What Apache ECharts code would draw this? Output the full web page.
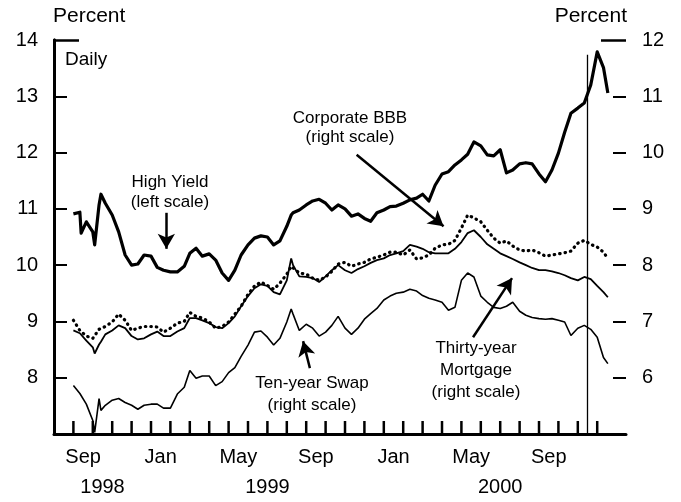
<!DOCTYPE html>
<html>
<head>
<meta charset="utf-8">
<script src="https://cdn.jsdelivr.net/npm/echarts@6/dist/echarts.min.js"></script>
<style>
  html, body { margin: 0; padding: 0; background: #fff; }
  #chart { width: 681px; height: 502px; }
</style>
</head>
<body>
<div id="chart"></div>
<script>
// sample dates (roughly every ten days, plus a few spikes)
const dates = [
  '1998-09-01', '1998-09-11', '1998-09-13', '1998-09-21', '1998-10-01', '1998-10-04', '1998-10-11', '1998-10-14', '1998-10-21',
  '1998-11-01', '1998-11-11', '1998-11-21', '1998-12-01', '1998-12-11', '1998-12-21',
  '1999-01-01', '1999-01-11', '1999-01-21', '1999-02-01', '1999-02-11', '1999-02-21',
  '1999-03-01', '1999-03-11', '1999-03-21', '1999-04-01', '1999-04-11', '1999-04-21',
  '1999-05-01', '1999-05-11', '1999-05-21', '1999-06-01', '1999-06-11', '1999-06-21',
  '1999-07-01', '1999-07-11', '1999-07-21', '1999-08-01', '1999-08-08', '1999-08-11', '1999-08-21',
  '1999-09-01', '1999-09-11', '1999-09-21', '1999-10-01', '1999-10-11', '1999-10-21',
  '1999-11-01', '1999-11-11', '1999-11-21', '1999-12-01', '1999-12-11', '1999-12-21',
  '2000-01-01', '2000-01-11', '2000-01-21', '2000-02-01', '2000-02-11', '2000-02-21',
  '2000-03-01', '2000-03-11', '2000-03-21', '2000-04-01', '2000-04-11', '2000-04-21',
  '2000-05-01', '2000-05-11', '2000-05-21', '2000-06-01', '2000-06-11', '2000-06-21',
  '2000-07-01', '2000-07-11', '2000-07-21', '2000-08-01', '2000-08-11', '2000-08-21',
  '2000-09-01', '2000-09-11', '2000-09-21', '2000-10-01', '2000-10-11', '2000-10-21',
  '2000-11-01', '2000-11-11', '2000-11-21', '2000-12-01', '2000-12-11', '2000-12-18'
]

// left scale
const highYield = [
  10.91, 10.94, 10.57, 10.77, 10.59, 10.36, 11.07, 11.26, 11.10,
  10.89, 10.59, 10.18, 10.00, 10.02, 10.18,
  10.16, 9.96, 9.91, 9.88, 9.88, 9.98,
  10.21, 10.30, 10.16, 10.20, 10.09, 9.86,
  9.73, 9.91, 10.18, 10.36, 10.48, 10.52,
  10.50, 10.36, 10.43, 10.69, 10.89, 10.93, 10.98,
  11.07, 11.14, 11.17, 11.10, 10.98, 11.07,
  11.00, 10.87, 10.91, 10.83, 10.78, 10.93,
  10.98, 11.04, 11.05, 11.10, 11.16, 11.19,
  11.26, 11.14, 11.42, 11.62, 11.66, 11.78,
  11.87, 11.97, 12.19, 12.12, 11.96, 11.94,
  12.05, 11.64, 11.69, 11.80, 11.82, 11.80,
  11.62, 11.48, 11.69, 11.99, 12.36, 12.70,
  12.79, 12.88, 13.20, 13.79, 13.51, 13.06
]

// right scale
const corporateBBB = [
  7.02, 6.84, 6.81, 6.74, 6.70, 6.67, 6.86, 6.88, 6.91,
  6.99, 7.13, 7.02, 6.84, 6.88, 6.91,
  6.91, 6.90, 6.81, 6.88, 6.97, 7.00,
  7.16, 7.09, 7.06, 6.99, 6.88, 6.91,
  6.99, 7.13, 7.27, 7.48, 7.63, 7.70,
  7.64, 7.57, 7.68, 7.84, 7.98, 8.00, 7.86,
  7.84, 7.77, 7.73, 7.79, 7.89, 8.02,
  8.05, 7.98, 8.02, 8.05, 8.11, 8.14,
  8.18, 8.23, 8.23, 8.18, 8.27, 8.11,
  8.13, 8.18, 8.30, 8.36, 8.37, 8.44,
  8.66, 8.89, 8.84, 8.77, 8.62, 8.48,
  8.39, 8.43, 8.34, 8.27, 8.25, 8.27,
  8.22, 8.16, 8.18, 8.20, 8.22, 8.25,
  8.39, 8.44, 8.37, 8.32, 8.23, 8.12
]

const mortgage = [
  6.84, 6.79, 6.77, 6.66, 6.54, 6.43, 6.59, 6.64, 6.77,
  6.84, 6.93, 6.88, 6.74, 6.68, 6.70,
  6.77, 6.82, 6.74, 6.74, 6.82, 6.88,
  7.06, 7.06, 7.02, 6.97, 6.90, 6.88,
  6.97, 7.09, 7.27, 7.45, 7.59, 7.66,
  7.63, 7.52, 7.48, 7.73, 8.12, 8.00, 7.80,
  7.79, 7.77, 7.70, 7.80, 7.91, 8.00,
  7.91, 7.86, 7.93, 7.98, 8.04, 8.09,
  8.12, 8.18, 8.21, 8.25, 8.36, 8.33,
  8.29, 8.23, 8.21, 8.21, 8.21, 8.29,
  8.41, 8.57, 8.62, 8.50, 8.37, 8.29,
  8.21, 8.16, 8.11, 8.05, 8.00, 7.95,
  7.91, 7.91, 7.89, 7.86, 7.82, 7.77,
  7.73, 7.79, 7.75, 7.63, 7.52, 7.43
]

const swap = [
  5.86, 5.72, 5.69, 5.53, 5.24, 5.03, 5.63, 5.42, 5.51,
  5.60, 5.63, 5.56, 5.51, 5.44, 5.51,
  5.53, 5.53, 5.46, 5.46, 5.71, 5.83,
  6.13, 5.99, 6.03, 6.03, 5.86, 5.93,
  6.09, 6.18, 6.38, 6.58, 6.81, 6.83,
  6.72, 6.58, 6.70, 6.99, 7.22, 7.13, 6.84,
  6.95, 6.88, 6.74, 6.81, 6.93, 7.09,
  6.88, 6.77, 6.88, 7.04, 7.14, 7.23,
  7.38, 7.45, 7.50, 7.52, 7.57, 7.54,
  7.46, 7.41, 7.38, 7.34, 7.20, 7.25,
  7.73, 7.86, 7.79, 7.45, 7.34, 7.25,
  7.23, 7.27, 7.34, 7.18, 7.11, 7.07,
  7.05, 7.04, 7.05, 7.02, 6.99, 6.75,
  6.88, 6.93, 6.86, 6.72, 6.36, 6.25
]

const leftRange = [7, 14]
const rightRange = [5, 12]
const labelMonths = ['1998-09', '1999-01', '1999-05', '1999-09', '2000-01', '2000-05', '2000-09']
const monthNames = ['Jan', 'Feb', 'Mar', 'Apr', 'May', 'Jun', 'Jul', 'Aug', 'Sep', 'Oct', 'Nov', 'Dec']
const years = [1998, 1999, 2000]

// x position in months since 1 Aug 1998
function monthPos(s) {
  const [y, m, d] = s.split('-').map(Number)
  const days = new Date(y, m, 0).getDate()
  return (y - 1998) * 12 + (m - 8) + ((d || 1) - 1) / days
}

const xMin = monthPos('1998-08-01')
const xMax = monthPos('2001-01-16')
const lastTick = monthPos('2000-12-01')
const labelPos = labelMonths.map(s => monthPos(s + '-01') + 0.5)
const yearPos = years.map(y => (Math.max(xMin, monthPos(y + '-01-01')) + monthPos((y + 1) + '-01-01')) / 2)
const cutoff = monthPos('2000-11-15')

const grid = { left: 54, right: 55, top: 40, bottom: 68 }
const plotWidth = 681 - grid.left - grid.right
const pxPerMonth = plotWidth / (xMax - xMin)

const font = '"Liberation Sans", Arial, sans-serif'
const pairs = vals => dates.map((d, i) => [monthPos(d), vals[i]])
const arrowLine = (a, b) => [{ coord: a }, { coord: b }]
const pickLabel = (positions, names) => v => {
  const i = positions.findIndex(p => Math.abs(p - v) < 0.01)
  return i < 0 ? '' : String(names[i])
}

// inward y tick marks, drawn in left-scale data units
const seg = (a, b, w) => [{ coord: a, symbol: 'none', lineStyle: { width: w } }, { coord: b, symbol: 'none' }]
const tickMarks = []
for (let v = leftRange[0] + 1; v < leftRange[1]; v++) {
  tickMarks.push(seg([xMin, v], [xMin + 13 / pxPerMonth, v], 2))
  tickMarks.push(seg([xMax - 13 / pxPerMonth, v], [xMax, v], 2))
}
tickMarks.push(seg([xMin, leftRange[1]], [xMin + 25 / pxPerMonth, leftRange[1]], 2.5))
tickMarks.push(seg([xMax - 25 / pxPerMonth, leftRange[1]], [xMax, leftRange[1]], 2.5))

const chart = echarts.init(document.getElementById('chart'))

const axisBase = {
  type: 'value',
  axisLine: { show: true, lineStyle: { color: '#000', width: 3 } },
  axisTick: { show: false },
  splitLine: { show: false }
}

const texts = [
  { type: 'text', x: 53, y: 16, style: { text: 'Percent', font: '21px ' + font, fill: '#000', textAlign: 'left', textVerticalAlign: 'middle' } },
  { type: 'text', x: 627, y: 16, style: { text: 'Percent', font: '21px ' + font, fill: '#000', textAlign: 'right', textVerticalAlign: 'middle' } },
  { type: 'text', x: 65, y: 60, style: { text: 'Daily', font: '19px ' + font, fill: '#000', textAlign: 'left', textVerticalAlign: 'middle' } },
  { type: 'text', x: 170, y: 172, style: { text: 'High Yield\n(left scale)', font: '17px ' + font, lineHeight: 20, fill: '#000', textAlign: 'center', textVerticalAlign: 'top' } },
  { type: 'text', x: 350, y: 109, style: { text: 'Corporate BBB\n(right scale)', font: '17px ' + font, lineHeight: 19, fill: '#000', textAlign: 'center', textVerticalAlign: 'top' } },
  { type: 'text', x: 312, y: 372, style: { text: 'Ten-year Swap\n(right scale)', font: '17px ' + font, lineHeight: 22, fill: '#000', textAlign: 'center', textVerticalAlign: 'top' } },
  { type: 'text', x: 476, y: 337, style: { text: 'Thirty-year\nMortgage\n(right scale)', font: '17px ' + font, lineHeight: 22, fill: '#000', textAlign: 'center', textVerticalAlign: 'top' } }
]

chart.setOption({
  animation: false,
  backgroundColor: '#fff',
  grid: grid,
  xAxis: [
    Object.assign({}, axisBase, {
      min: xMin, max: xMax, position: 'bottom',
      axisLabel: {
        customValues: labelPos, margin: 13, color: '#000', fontSize: 20, fontFamily: font,
        formatter: pickLabel(labelPos, labelMonths.map(s => monthNames[Number(s.slice(5)) - 1]))
      }
    }),
    Object.assign({}, axisBase, {
      min: xMin, max: xMax, position: 'bottom', offset: 30,
      axisLine: { show: false },
      axisLabel: { customValues: yearPos, margin: 13, color: '#000', fontSize: 20, fontFamily: font, formatter: pickLabel(yearPos, years) }
    })
  ],
  yAxis: [
    Object.assign({}, axisBase, {
      min: leftRange[0], max: leftRange[1], interval: 1, position: 'left',
      axisLabel: { margin: 16, color: '#000', fontSize: 20, fontFamily: font, formatter: v => v === leftRange[0] ? '' : v }
    }),
    Object.assign({}, axisBase, {
      min: rightRange[0], max: rightRange[1], interval: 1, position: 'right',
      axisLabel: { margin: 16, color: '#000', fontSize: 20, fontFamily: font, formatter: v => v === rightRange[0] ? '' : v }
    })
  ],
  series: [
    {
      name: 'High Yield', type: 'line', yAxisIndex: 0, showSymbol: false,
      data: pairs(highYield),
      lineStyle: { color: '#000', width: 3.2, join: 'round' },
      markLine: {
        silent: true, symbol: ['none', 'arrow'], symbolSize: [13, 15],
        label: { show: false },
        lineStyle: { color: '#000', width: 2.5, type: 'solid', cap: 'butt' },
        data: [
          arrowLine([5.79, 10.93], [5.79, 10.29]),
          arrowLine([15.60, 11.96], [20.08, 10.69]),
          arrowLine([13.19, 8.17], [12.84, 8.65]),
          arrowLine([21.60, 8.72], [23.61, 9.77]),
          seg([cutoff, 13.74], [cutoff, leftRange[0]], 1.3)
        ].concat(tickMarks)
      }
    },
    {
      name: 'Corporate BBB', type: 'line', yAxisIndex: 1, showSymbol: false,
      data: pairs(corporateBBB),
      lineStyle: { color: '#000', width: 3.2, type: [0.5, 5], cap: 'round' }
    },
    {
      name: 'Thirty-year Mortgage', type: 'line', yAxisIndex: 1, showSymbol: false,
      data: pairs(mortgage),
      lineStyle: { color: '#000', width: 1.8 }
    },
    {
      name: 'Ten-year Swap', type: 'line', yAxisIndex: 1, showSymbol: false,
      data: pairs(swap),
      lineStyle: { color: '#000', width: 1.6 }
    }
  ]
})

// month ticks on the x axis, Sep 1998 to Dec 2000, placed through the chart's own scale
const monthTicks = []
for (let m = Math.ceil(xMin) + 1; m <= lastTick; m++) {
  const p = chart.convertToPixel({ xAxisIndex: 0, yAxisIndex: 0 }, [m, leftRange[0]])
  if (!p || !isFinite(p[0]) || !isFinite(p[1])) throw new Error('tick position failed: ' + JSON.stringify(p))
  monthTicks.push({ type: 'line', z: 10, shape: { x1: p[0], y1: p[1] - 1, x2: p[0], y2: p[1] - 13 }, style: { stroke: '#000', lineWidth: 2.5 } })
}
if (monthTicks.length !== 28) throw new Error('tick count ' + monthTicks.length)
chart.setOption({ graphic: texts.concat(monthTicks) })
</script>
</body>
</html>
